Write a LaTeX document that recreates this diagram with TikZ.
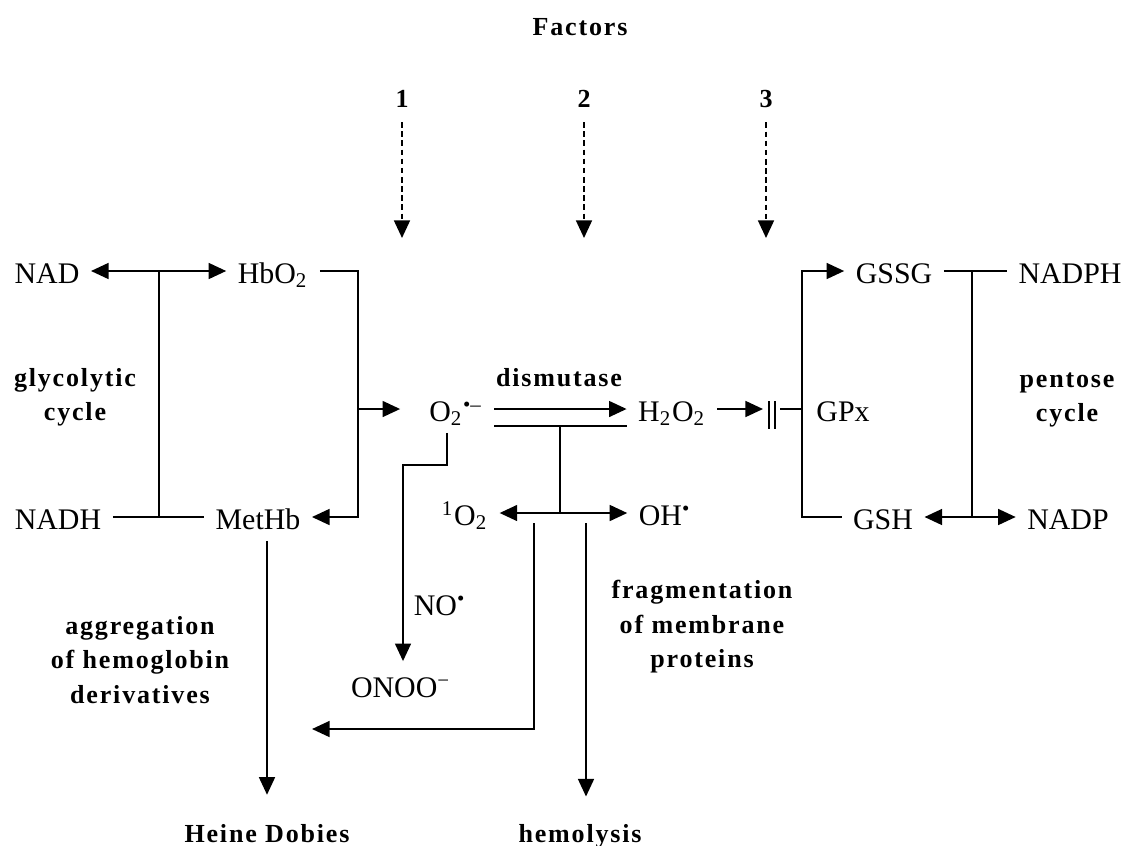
\documentclass[tikz,border=0pt]{standalone}
\usepackage{fontspec}
\setmainfont{Liberation Serif}
\newfontfamily\notefont{Liberation Serif}[LetterSpace=7]
\usetikzlibrary{arrows.meta}

\begin{document}
\begin{tikzpicture}[x=0.01cm, y=-0.01cm, line width=0.6pt,
    >={Triangle[length=5pt, width=4.5pt]},
    species/.style={inner sep=3pt, text height=7pt, text depth=0pt,
      font=\fontsize{8.5}{10}\selectfont},
    note/.style={inner sep=1pt, align=center,
      font=\notefont\bfseries\fontsize{7.4}{9.8}\selectfont},
    factor/.style={->, dash pattern=on 1.6pt off 1pt, shorten <=3pt}]

  \useasboundingbox (0,0) rectangle (1131,845);

  % factors
  \node[note, anchor=base] (factors) at (580,35) {Factors};
  \foreach \x/\n in {402/1, 584/2, 766/3} {
    \node[note, anchor=base] (f\n) at (\x,107) {\n};
    \coordinate (t\n) at (\x,238);
    \draw[factor] (f\n) -- (t\n);
  }

  % glycolytic cycle
  \node[species] (nad) at (47,271) {NAD};
  \node[species] (hbo) at (273,271) {HbO\textsubscript{2}};
  \node[species] (nadh) at (58,517) {NADH};
  \node[species] (methb) at (258,517) {MetHb};
  \node[note] (glyc) at (75,397) {glycolytic\\cycle};
  \coordinate (gtop) at (159,271);
  \coordinate (gbot) at (159,517);
  \draw[<->] (nad) -- (hbo);
  \draw (nadh) -- (methb);
  \draw (gtop) -- (gbot);

  % superoxide
  \node[species] (sup) at (456,409) {O\textsubscript{2}\textsuperscript{\textbullet–}};
  \coordinate (hbr) at (358,271);
  \coordinate (hbm) at (358,409);
  \draw[->] (hbo) -- (hbr) |- (methb);
  \draw[->, shorten >=5pt] (hbm) -- (sup);

  % dismutase
  \node[species] (hp) at (672,409) {H\textsubscript{2}O\textsubscript{2}};
  \node[note, anchor=base] (dism) at (559,386) {dismutase};
  \draw[->] (sup) -- (hp);
  \draw ([yshift=-4.8pt]sup.east) -- ([yshift=-4.8pt]hp.west);

  % glutathione peroxidase
  \coordinate (bar) at (763,409);
  \coordinate (gpxj) at (802,409);
  \node[species] (gpx) at (843,409) {GPx};
  \draw[->] (hp) -- (bar);
  \draw (bar) ++(6,-8) -- ++(0,28);
  \draw (bar) ++(12,-8) -- ++(0,28);
  \draw (bar) ++(17,0) -- (gpxj);

  % pentose cycle
  \node[species] (gssg) at (894,271) {GSSG};
  \node[species] (nadph) at (1070,271) {NADPH};
  \node[species] (gsh) at (883,517) {GSH};
  \node[species] (nadp) at (1068,517) {NADP};
  \node[note] (pent) at (1067,400) {pentose\\cycle};
  \coordinate (ptop) at (972,271);
  \coordinate (pbot) at (972,517);
  \draw[->] (gpxj) |- (gssg);
  \draw (gpxj) |- (gsh);
  \draw (gssg) -- (nadph);
  \draw[<->] (gsh) -- (nadp);
  \draw (ptop) -- (pbot);

  % singlet oxygen and hydroxyl radical
  \node[species] (sing) at (465,513) {\textsuperscript{1}O\textsubscript{2}};
  \node[species] (ohr) at (665,513) {OH\textsuperscript{\textbullet}};
  \coordinate (dtop) at (560,426);
  \coordinate (dbot) at (560,513);
  \draw (dtop) -- (dbot);
  \draw[<->] (sing) -- (ohr);

  % peroxynitrite
  \node[species] (onoo) at (401,685) {ONOO\textsuperscript{−}};
  \node[species] (no) at (440,603) {NO\textsuperscript{\textbullet}};
  \coordinate (nobend) at (403,465);
  \draw[->] ([xshift=-2.5pt]sup.south) |- (nobend) -- (nobend |- onoo.north);

  % outcomes
  \node[note, anchor=base] (heine) at (267,842) {Heine Dobies};
  \node[note, anchor=base] (hemo) at (580,842) {hemolysis};
  \node[note] (aggr) at (140,660) {aggregation\\of hemoglobin\\derivatives};
  \node[note] (frag) at (702,627) {fragmentation\\of membrane\\proteins};
  \coordinate (agg) at (534,523);
  \coordinate (aggend) at (312,729);
  \coordinate (lys) at (586,523);
  \draw[->, shorten >=7pt] (methb.south -| heine) -- (heine);
  \draw[->] (agg) |- (aggend);
  \draw[->, shorten >=6.5pt] (lys) -- (lys |- hemo.north);

\end{tikzpicture}
\end{document}
